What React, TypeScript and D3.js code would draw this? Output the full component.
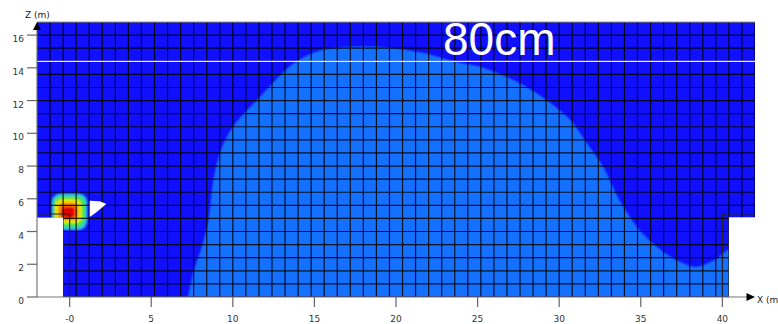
import React from "react";
import * as d3 from "d3";

// axis ticks (metres)
const xTicks = [0, 5, 10, 15, 20, 25, 30, 35, 40];
const xTickLabels = ["-0", "5", "10", "15", "20", "25", "30", "35", "40"];
const zTicks = [0, 2, 4, 6, 8, 10, 12, 14, 16];

// room section extent and mesh size
const xExtent = [-2, 42];
const zExtent = [0, 16.8];
const cellStep = 0.8;

// outline of the lighter (cooler) zone
const plumeEdge: [number, number][] = [
  [7.26, 0],
  [7.56, 1.45],
  [8.1, 3.07],
  [8.5, 4.7],
  [8.8, 7.1],
  [9.2, 8.8],
  [10.0, 10.4],
  [11.45, 12.0],
  [13.7, 14.25],
  [15.5, 15.1],
  [17.8, 15.3],
  [19.4, 15.25],
  [21.7, 14.9],
  [23.7, 14.35],
  [25.2, 14.05],
  [27.6, 13.05],
  [29.2, 12.05],
  [30.7, 10.8],
  [31.7, 9.4],
  [32.7, 7.95],
  [33.7, 5.9],
  [35.0, 4.0],
  [36.2, 2.9],
  [37.4, 2.15],
  [38.4, 1.85],
  [39.5, 2.25],
  [40.5, 2.95],
];

// hot spot bands near the inlet, outer to inner [x0, x1, z0, z1]
const hotBands: [number, number, number, number][] = [
  [-1.1, 1.08, 4.09, 6.33],
  [-1.0, 0.94, 4.29, 6.17],
  [-0.9, 0.74, 4.5, 5.97],
  [-0.69, 0.53, 4.7, 5.76],
  [-0.48, 0.33, 4.81, 5.52],
];
const hotColors = ["#2ec6e4", "#40e64a", "#e8e800", "#ff7800", "#e00000"];

// diffuser jet shape
const diffuser: [number, number][] = [
  [1.23, 5.88],
  [1.84, 5.85],
  [2.25, 5.68],
  [1.64, 5.17],
  [1.23, 4.88],
];

// walls (blank) and their outline
const walls: [number, number, number, number][] = [
  [-2, -0.4, 0, 4.85],
  [40.4, 42, 0, 4.87],
];
const wallOutlines: [number, number, number][] = [
  // x of the vertical edge, far x, top z
  [0, -2, 5.07],
  [40, 42, 5.07],
];
const markerZ = 14.4;

const width = 778;
const height = 324;

export default function App() {
  const x = d3.scaleLinear().domain(xExtent).range([37, 755]);
  const z = d3.scaleLinear().domain(zExtent).range([297, 22]);

  const plumePts: [number, number][] = [
    [x(7.26), z(0)],
    ...plumeEdge.map(([a, b]) => [x(a), z(b)] as [number, number]),
    [x(42), z(2.95)],
    [x(42), z(0)],
  ];
  const plumePath = d3.line().curve(d3.curveCatmullRom.alpha(0.5))(plumePts) + "Z";

  const xLines = d3.range(xExtent[0], xExtent[1] + 0.01, cellStep);
  const zLines = d3.range(zExtent[0], zExtent[1] + 0.01, cellStep);

  const font = "'DejaVu Sans', sans-serif";

  return (
    <svg
      width={width}
      height={height}
      style={{ position: "absolute", left: 0, top: 0, background: "#fff" }}
    >
      <defs>
        <clipPath id="plot">
          <rect x={x(-2)} y={z(16.8)} width={x(42) - x(-2)} height={z(0) - z(16.8)} />
        </clipPath>
        <filter id="soft" x="-20%" y="-20%" width="140%" height="140%">
          <feGaussianBlur stdDeviation={0.9} />
        </filter>
      </defs>
      <g clipPath="url(#plot)">
        <rect x={x(-2)} y={z(16.8)} width={x(42) - x(-2)} height={z(0) - z(16.8)} fill="#1010ff" />
        <path d={plumePath} fill="#1470ff" stroke="#1242ff" strokeWidth={1.5} />
        <g filter="url(#soft)">
          {hotBands.map(([x0, x1, z0, z1], i) => (
            <rect
              key={i}
              x={x(x0)}
              y={z(z1)}
              width={x(x1) - x(x0)}
              height={z(z0) - z(z1)}
              rx={9 - i * 1.2}
              fill={hotColors[i]}
            />
          ))}
        </g>
        {xLines.map((v, i) => (
          <line key={"gx" + i} x1={x(v)} x2={x(v)} y1={z(0)} y2={z(16.8)} stroke="#000" strokeWidth={1.2} strokeOpacity={0.85} />
        ))}
        {zLines.map((v, i) => (
          <line key={"gz" + i} x1={x(-2)} x2={x(42)} y1={z(v)} y2={z(v)} stroke="#000" strokeWidth={1.2} strokeOpacity={0.85} />
        ))}
        <line x1={x(-2)} x2={x(42)} y1={z(markerZ)} y2={z(markerZ)} stroke="#e8e8f0" strokeWidth={1.3} />
        <path d={d3.line()(diffuser.map(([a, b]) => [x(a), z(b)] as [number, number])) + "Z"} fill="#fff" />
        {walls.map(([x0, x1, z0, z1], i) => (
          <rect key={"w" + i} x={x(x0)} y={z(z1)} width={x(x1) - x(x0)} height={z(z0) - z(z1)} fill="#fff" />
        ))}
        {wallOutlines.map(([xe, xf, zt], i) => (
          <polyline
            key={"o" + i}
            points={`${x(xe)},${z(0)} ${x(xe)},${z(zt)} ${x(xf)},${z(zt)}`}
            fill="none"
            stroke="#222"
            strokeWidth={1.2}
          />
        ))}
      </g>

      {/* frame and axes */}
      <line x1={x(-2)} x2={x(42)} y1={z(16.8)} y2={z(16.8)} stroke="#999" strokeWidth={1} />
      <line x1={x(-2)} x2={x(-2)} y1={z(0)} y2={30} stroke="#777" strokeWidth={1.2} />
      <line x1={x(-2)} x2={747} y1={z(0)} y2={z(0)} stroke="#777" strokeWidth={1.2} />
      <path d={`M${x(-2)},22 L${x(-2) - 4},30 L${x(-2) + 4},30 Z`} fill="#000" />
      <path d={`M755,${z(0)} L746.5,${z(0) - 4} L746.5,${z(0) + 4} Z`} fill="#000" />

      {zTicks.map((t) => (
        <g key={"zt" + t}>
          <line x1={27} x2={x(-2)} y1={z(t)} y2={z(t)} stroke="#666" strokeWidth={1.2} />
          <text x={24} y={z(t) + 7} textAnchor="end" fontFamily={font} fontSize={9} fill="#333">
            {t}
          </text>
        </g>
      ))}
      {xTicks.map((t, i) => (
        <g key={"xt" + t}>
          <line x1={x(t)} x2={x(t)} y1={z(0)} y2={307} stroke="#666" strokeWidth={1.2} />
          <text x={x(t)} y={322} textAnchor="middle" fontFamily={font} fontSize={9} fill="#333">
            {xTickLabels[i]}
          </text>
        </g>
      ))}

      <text x={25} y={18} fontFamily={font} fontSize={9} fill="#222">
        Z (m)
      </text>
      <text x={757} y={303} fontFamily={font} fontSize={9} fill="#222">
        X (m)
      </text>

      <text x={443} y={55} fontFamily="'Liberation Sans', Arial, sans-serif" fontSize={46} fill="#fff">
        80cm
      </text>
    </svg>
  );
}
